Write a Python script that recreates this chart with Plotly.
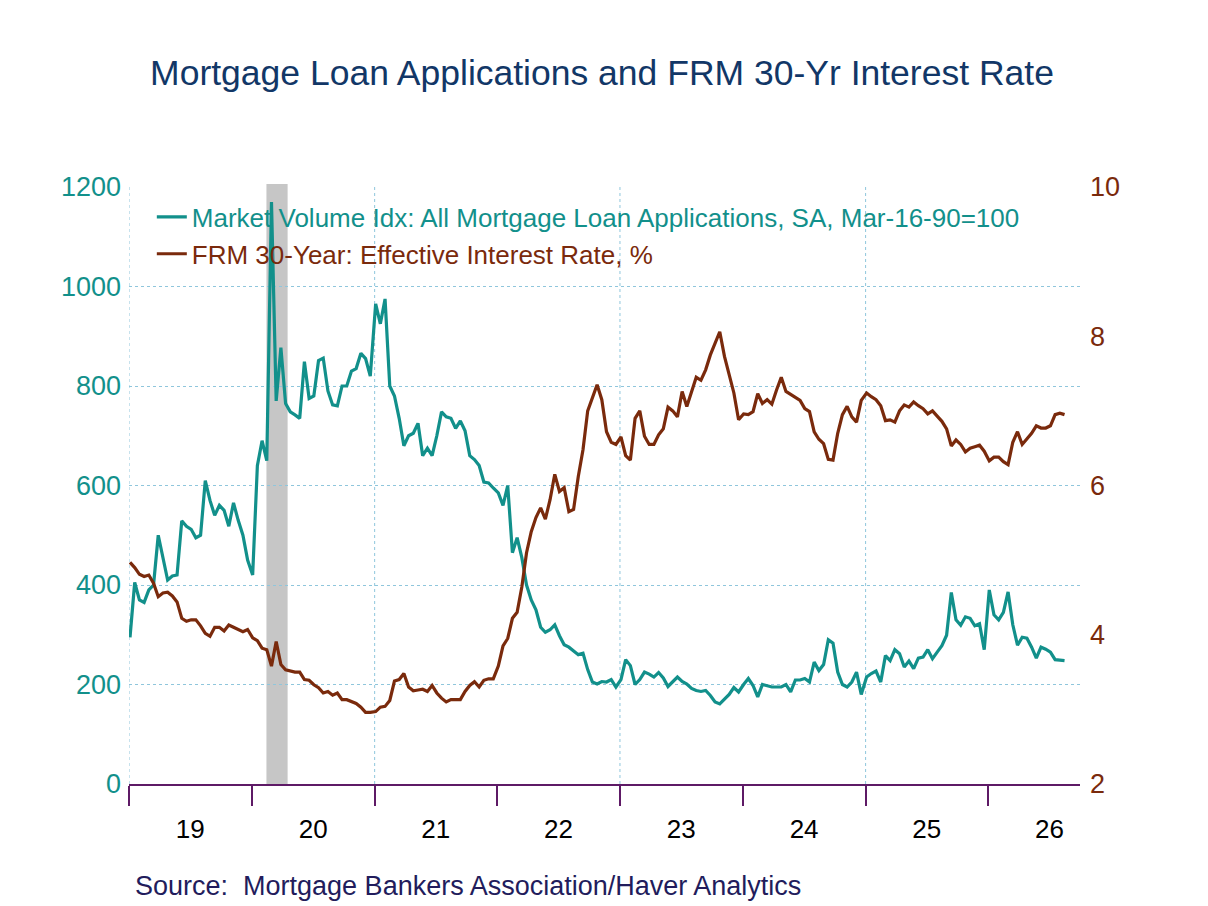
import pandas as pd
import plotly.graph_objects as go

# biweekly readings, each year starts on Jan 4
apps_2019 = [295, 405, 370, 365, 390, 400, 500, 455, 410, 418, 420, 529, 518, 512, 495, 500, 610, 570, 540, 560, 550, 518, 565, 530, 500, 450]
apps_2020 = [420, 640, 690, 650, 1170, 770, 877, 765, 748, 742, 735, 849, 775, 780, 851, 856, 790, 762, 760, 800, 800, 830, 835, 866, 855, 820]
apps_2021 = [965, 925, 975, 800, 780, 735, 680, 700, 705, 725, 660, 675, 660, 700, 748, 738, 735, 715, 730, 710, 660, 652, 640, 607, 605, 595]
apps_2022 = [585, 560, 600, 465, 495, 455, 400, 370, 350, 315, 305, 310, 320, 298, 280, 275, 268, 260, 263, 230, 205, 201, 206, 205, 210, 195]
apps_2023 = [210, 250, 238, 200, 210, 225, 221, 215, 224, 213, 196, 205, 215, 206, 201, 192, 188, 186, 188, 178, 165, 161, 171, 180, 194, 185]
apps_2024 = [200, 212, 198, 175, 200, 197, 195, 195, 195, 200, 185, 209, 209, 212, 205, 245, 228, 240, 290, 283, 225, 200, 195, 205, 225, 180]
apps_2025 = [215, 222, 227, 205, 258, 248, 270, 262, 235, 247, 232, 253, 255, 270, 252, 265, 278, 299, 385, 330, 319, 336, 333, 318, 322, 270]
apps_2026 = [390, 340, 330, 345, 386, 320, 279, 295, 293, 275, 253, 275, 271, 265, 250, 249, 248]

rate_2019 = [4.97, 4.90, 4.81, 4.78, 4.80, 4.69, 4.51, 4.56, 4.57, 4.52, 4.44, 4.22, 4.18, 4.20, 4.20, 4.12, 4.02, 3.98, 4.10, 4.10, 4.05, 4.13, 4.10, 4.07, 4.04, 4.07]
rate_2020 = [3.96, 3.92, 3.82, 3.80, 3.58, 3.91, 3.60, 3.53, 3.51, 3.50, 3.50, 3.40, 3.39, 3.33, 3.29, 3.22, 3.24, 3.19, 3.22, 3.13, 3.13, 3.10, 3.08, 3.03, 2.96, 2.96]
rate_2021 = [2.97, 3.03, 3.04, 3.12, 3.38, 3.40, 3.48, 3.30, 3.25, 3.26, 3.27, 3.24, 3.32, 3.22, 3.15, 3.10, 3.13, 3.13, 3.13, 3.24, 3.32, 3.37, 3.30, 3.39, 3.41, 3.41]
rate_2022 = [3.58, 3.85, 3.95, 4.22, 4.30, 4.64, 5.10, 5.38, 5.57, 5.70, 5.55, 5.81, 6.15, 5.92, 5.97, 5.65, 5.68, 6.12, 6.48, 7.00, 7.17, 7.35, 7.15, 6.72, 6.58, 6.55]
rate_2023 = [6.65, 6.40, 6.34, 6.90, 7.00, 6.66, 6.55, 6.55, 6.68, 6.76, 7.05, 7.00, 6.92, 7.26, 7.06, 7.26, 7.45, 7.41, 7.55, 7.75, 7.91, 8.06, 7.73, 7.50, 7.24, 6.88]
rate_2024 = [6.96, 6.95, 6.99, 7.23, 7.10, 7.15, 7.09, 7.28, 7.45, 7.26, 7.22, 7.18, 7.14, 7.03, 6.99, 6.72, 6.62, 6.56, 6.35, 6.34, 6.70, 6.95, 7.06, 6.92, 6.85, 7.14]
rate_2025 = [7.24, 7.19, 7.15, 7.07, 6.87, 6.88, 6.85, 7.00, 7.08, 7.05, 7.12, 7.07, 7.03, 6.96, 7.00, 6.93, 6.86, 6.76, 6.53, 6.61, 6.55, 6.45, 6.50, 6.52, 6.54, 6.46]
rate_2026 = [6.33, 6.38, 6.38, 6.32, 6.28, 6.58, 6.72, 6.55, 6.62, 6.70, 6.80, 6.77, 6.77, 6.80, 6.95, 6.97, 6.95]

years = list(range(2019, 2027))
year_labels = ['19', '20', '21', '22', '23', '24', '25', '26']
recession = ('2020-02-14', '2020-04-17')

apps_by_year = [apps_2019, apps_2020, apps_2021, apps_2022, apps_2023, apps_2024, apps_2025, apps_2026]
rate_by_year = [rate_2019, rate_2020, rate_2021, rate_2022, rate_2023, rate_2024, rate_2025, rate_2026]


def year_dates(yr, n):
    '''Biweekly dates for one year of readings.'''
    return pd.date_range(f'{yr}-01-04', periods=n, freq='14D')


apps_dates = pd.DatetimeIndex([])
for yr, vals in zip(years, apps_by_year):
    apps_dates = apps_dates.append(year_dates(yr, len(vals)))
rate_dates = pd.DatetimeIndex([])
for yr, vals in zip(years, rate_by_year):
    rate_dates = rate_dates.append(year_dates(yr, len(vals)))

apps = [v for vals in apps_by_year for v in vals]
rate = [v for vals in rate_by_year for v in vals]

TEAL = '#12908b'
BROWN = '#7a2a0c'
GRID = '#8fc6dc'
AXIS = '#5e1a66'
FONT = 'Liberation Sans, Arial, sans-serif'

# the page body adds an 8px offset, so the margins are shifted to compensate
fig = go.Figure()

fig.add_trace(go.Scatter(
    x=apps_dates, y=apps, mode='lines', yaxis='y',
    name=f"<span style='color:{TEAL}'>Market Volume Idx: All Mortgage Loan Applications, SA, Mar-16-90=100</span>",
    line=dict(color=TEAL, width=3.2),
))
fig.add_trace(go.Scatter(
    x=rate_dates, y=rate, mode='lines', yaxis='y2',
    name=f"<span style='color:{BROWN}'>FRM 30-Year: Effective Interest Rate, %</span>",
    line=dict(color=BROWN, width=3.2),
))

# recession shading
fig.add_shape(type='rect', xref='x', yref='paper', x0=recession[0], x1=recession[1],
              y0=0, y1=1.005, fillcolor='#c6c6c6', line_width=0, layer='below')

# vertical dotted grid every two years
for yr in [2019, 2021, 2023, 2025]:
    fig.add_shape(type='line', xref='x', yref='paper', x0=f'{yr}-01-01', x1=f'{yr}-01-01',
                  y0=0, y1=1, line=dict(color=GRID, width=1, dash='dot'), layer='below')

fig.update_layout(
    width=1208, height=906,
    margin=dict(l=121, r=136, t=179, b=130, autoexpand=False),
    paper_bgcolor='white', plot_bgcolor='white',
    font=dict(family=FONT),
    title=dict(text='Mortgage Loan Applications and FRM 30-Yr Interest Rate',
               x=(602 - 8) / 1208, xanchor='center', y=1 - 65 / 906, yanchor='middle',
               font=dict(size=35.5, color='#123767', family=FONT)),
    showlegend=True,
    legend=dict(x=0.024, y=0.989, xanchor='left', yanchor='top',
                bgcolor='rgba(0,0,0,0)', font=dict(size=26, family=FONT),
                itemwidth=30, tracegroupgap=0),
    xaxis=dict(
        type='date', range=['2019-01-01', '2026-10-01'],
        tickvals=[f'{yr}-07-02' for yr in years], ticktext=year_labels,
        ticks='outside', ticklen=21, tickcolor='rgba(0,0,0,0)',
        tickfont=dict(size=26, color='black', family=FONT),
        minor=dict(tickvals=[f'{yr}-01-01' for yr in years], ticks='outside',
                   ticklen=20, tickcolor=AXIS, tickwidth=1.5, showgrid=False),
        showgrid=False, zeroline=False,
        showline=True, linecolor=AXIS, linewidth=1.5,
    ),
    yaxis=dict(
        range=[0, 1200], dtick=200, tickfont=dict(size=27, color=TEAL, family=FONT),
        ticklabelstandoff=7,
        showgrid=True, gridcolor=GRID, griddash='dot', gridwidth=1,
        zeroline=False, ticks='', showline=False,
    ),
    yaxis2=dict(
        range=[2, 10], dtick=2, overlaying='y', side='right',
        tickfont=dict(size=27, color=BROWN, family=FONT),
        ticklabelstandoff=9,
        showgrid=False, zeroline=False, ticks='', showline=False,
    ),
    annotations=[dict(
        text='Source:  Mortgage Bankers Association/Haver Analytics',
        xref='paper', yref='paper', x=0.004, y=-(886 - 784) / 597,
        xanchor='left', yanchor='middle', showarrow=False,
        font=dict(size=27, color='#221c5c', family=FONT),
    )],
)

fig.write_html('out.html')
